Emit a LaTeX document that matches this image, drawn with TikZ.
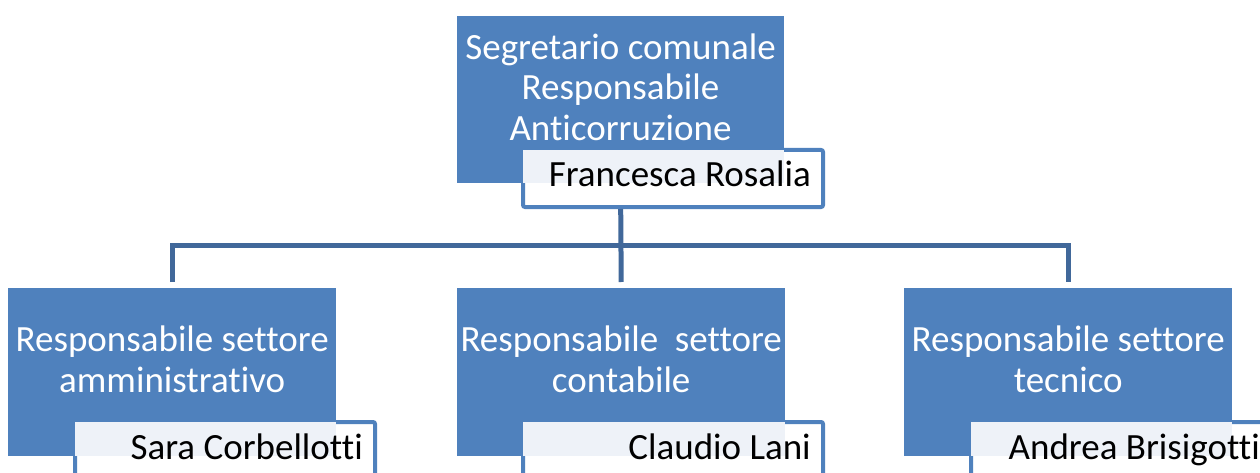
\documentclass[tikz,border=0pt]{standalone}
\usepackage{fontspec}
\setmainfont{Carlito}[Ligatures=NoCommon]
\usetikzlibrary{calc}
\definecolor{boxblue}{HTML}{4F81BD}
\definecolor{connblue}{HTML}{41689A}
\definecolor{stip}{HTML}{EEF2F8}
\tikzset{
  bluebox/.style={rectangle, fill=boxblue, draw=none, anchor=north west, minimum width=328pt, minimum height=168pt, inner sep=0pt},
  bluetext/.style={text=white, align=center, inner sep=0pt, font=\fontsize{37}{40.5}\selectfont},
  namebox/.style={rectangle, draw=boxblue, line width=4pt, rounded corners=2pt, fill=white, anchor=north west, minimum width=300pt, minimum height=57pt, inner sep=0pt},
  nametext/.style={anchor=base east, inner sep=0pt, font=\fontsize{37}{40.5}\selectfont},
  conn/.style={draw=connblue, line width=5pt}
}
\begin{document}
\begin{tikzpicture}[x=1pt,y=-1pt]
\useasboundingbox (0,0) rectangle (1260,473);
% top
\node[bluebox, minimum width=327pt, minimum height=167pt] (b0) at (457,16) {};
\node[bluetext] (t0) at (620.5,87) {Segretario comunale\\Responsabile\\Anticorruzione};
\node[namebox] (n0) at (521,148) {};
% bottom
\node[bluebox] (b1) at (8,288) {};
\node[bluebox] (b2) at (457,288) {};
\node[bluebox] (b3) at (904,288) {};
\node[bluetext] (t1) at (b1.center |- 0,359.5) {Responsabile settore\\amministrativo};
\node[bluetext] (t2) at (b2.center |- 0,359.5) {Responsabile\ \ settore\\contabile};
\node[bluetext] (t3) at (b3.center |- 0,359.5) {Responsabile settore\\tecnico};
\node[namebox] (n1) at (73,420) {};
\node[namebox] (n2) at (521,420) {};
\node[namebox] (n3) at (969,420) {};
% stipple overlaps
\fill[stip] (523,150) rectangle (b0.south east);
\fill[stip] (75,422) rectangle (b1.south east);
\fill[stip] (523,422) rectangle (b2.south east);
\fill[stip] (971,422) rectangle (b3.south east);
\node[nametext] (m0) at (811,186) {Francesca Rosalia};
\node[nametext] (m1) at (363,459) {Sara Corbellotti};
\node[nametext] (m2) at (811,459) {Claudio Lani};
\node[nametext] (m3) at (1260,459) {Andrea Brisigotti};
% connectors
\coordinate (j) at (b0.center |- 0,245);
\draw[conn] ($(b1.north)+(0,-6)$) |- (j) -| ($(b3.north)+(0,-6)$);
\draw[conn] (b0.center |- n0.south) -- ($(b2.north)+(0,-6)$);
\end{tikzpicture}
\end{document}
